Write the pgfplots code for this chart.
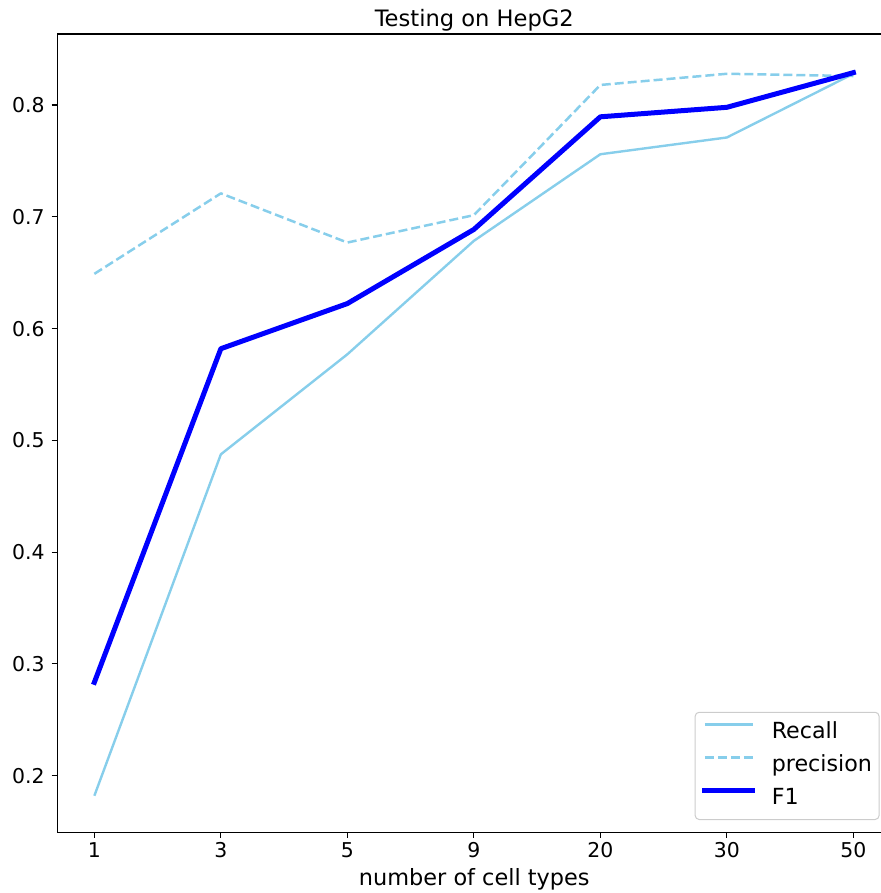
\documentclass[border=0pt]{standalone}
\usepackage{fontspec}
\setmainfont{DejaVu Sans}
\usepackage{pgfplots}
\usepackage{pgfplotstable}
\pgfplotsset{compat=1.18}
\definecolor{skyblue}{RGB}{135,206,235}
\pgfplotstableread{
x rec prec f1
0 0.182 0.649 0.2835
1 0.4875 0.721 0.582
2 0.577 0.677 0.6224
3 0.6785 0.7015 0.6887
4 0.756 0.818 0.7895
5 0.771 0.828 0.798
6 0.828 0.826 0.829
}\data
\begin{document}
\begin{tikzpicture}
\begin{axis}[
 at={(0,0)}, anchor=south west,
 scale only axis, width=417pt, height=399.15pt,
 xmin=-0.293, xmax=6.3, ymin=0.1493, ymax=0.8636,
 xtick={0,1,2,3,4,5,6}, xticklabels={1,3,5,9,20,30,50},
 ytick={0.2,0.3,0.4,0.5,0.6,0.7,0.8},
 yticklabel style={/pgf/number format/fixed, /pgf/number format/fixed zerofill, /pgf/number format/precision=1},
 /pgf/number format/assume math mode=true,
 tick align=outside, tick pos=left, major tick length=2.8pt,
 every tick/.style={black, line width=0.6pt},
 axis line style={line width=0.6pt},
 tick label style={font=\fontsize{10.2}{12}\selectfont},
 yticklabel style={anchor=east, inner sep=0pt, xshift=-3.35pt},
 xticklabel style={anchor=base, inner sep=0pt, yshift=-9.9pt},
 every axis title shift=0pt,
 title={Testing on HepG2},
 title style={at={(axis description cs:0.5,1)}, anchor=base, yshift=3.65pt, font=\fontsize{11.3}{13}\selectfont, inner sep=0pt},
 xlabel={number of cell types},
 xlabel style={at={(axis description cs:0.5,0)}, anchor=base, yshift=-26.35pt, font=\fontsize{11.2}{13}\selectfont, inner sep=0pt},
 legend style={at={(1,0)}, anchor=south east, xshift=-5.85pt, yshift=6.15pt, draw=black!20, line width=0.5pt, rounded corners=2pt, fill=white, fill opacity=0.8, text opacity=1, font=\fontsize{11.1}{13}\selectfont, inner xsep=3.6pt, inner ysep=4.8pt, row sep=5.5pt, nodes={inner sep=0pt},
   /tikz/every odd column/.append style={column sep=8.2pt},
   /tikz/every even column/.append style={nodes={text height=8.5pt, text depth=2.5pt}}},
 legend cell align=left,
 legend image code/.code={\draw[#1] (0pt,4.2pt) -- (24pt,4.2pt);},
]
\addplot[skyblue, line width=1.2pt, line join=round] table[x=x,y=rec]{\data};
\addlegendentry{Recall}
\addplot[skyblue, line width=1.25pt, line join=round, dash pattern=on 4.5pt off 2pt] table[x=x,y=prec]{\data};
\addlegendentry{precision}
\addplot[blue, line width=2.5pt, line join=round, line cap=rect] table[x=x,y=f1]{\data};
\addlegendentry{F1}
\end{axis}
\pgfresetboundingbox
\useasboundingbox (-28.65pt,-30.35pt) rectangle (411.85pt,416.15pt);
\end{tikzpicture}
\end{document}
